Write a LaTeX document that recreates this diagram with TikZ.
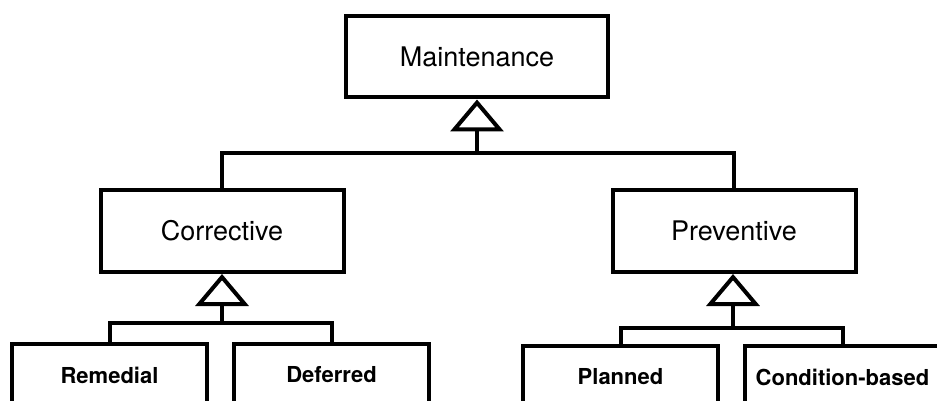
\documentclass[tikz,border=0pt]{standalone}
\usepackage{fontspec}
\setmainfont{TeX Gyre Heros}
\usetikzlibrary{positioning}
\usetikzlibrary{arrows.meta}

\tikzset{
  thickline/.style={line width=4pt},
  classbox/.style={draw, thickline, inner sep=0pt, minimum width=262pt, minimum height=81pt, font=\fontsize{27}{32}\selectfont},
  subbox/.style={classbox, minimum width=243pt, minimum height=82pt},
  leafbox/.style={draw, thickline, inner sep=0pt, minimum width=195pt, minimum height=62pt, font=\bfseries\fontsize{22}{26}\selectfont},
  isa/.style={thickline, -{Triangle[open, length=32pt, width=53pt]}}
}

\begin{document}
\begin{tikzpicture}[x=1pt, y=-1pt]
  \useasboundingbox (0,0) rectangle (937,401);
  \clip (0,0) rectangle (937,401);

  \node [classbox] (maint) at (477,57) {Maintenance};
  \node [subbox] (corr) at (222,231) {Corrective};
  \node [subbox] (prev) at (734,231) {Preventive};

  \node [leafbox] (remed) at (109.5,375) {Remedial};
  \node [leafbox] (defer) at (331.5,375) {Deferred};
  \node [leafbox] (plan) at (620.5,377) {Planned};
  \node [leafbox] (cond) at (842.5,377) {Condition-based};

  \coordinate (mbar) at (477,153);
  \coordinate (cbar) at (222,323);
  \coordinate (pbar) at (733,328);

  \draw [isa] (mbar) -- (maint.south);
  \draw [thickline] (corr.north) |- (mbar) -| (prev.north);

  \draw [isa] (cbar) -- (corr.south);
  \draw [thickline] (remed.north) |- (cbar) -| (defer.north);

  \draw [isa] (pbar) -- (pbar |- prev.south);
  \draw [thickline] (plan.north) |- (pbar) -| (cond.north);
\end{tikzpicture}
\end{document}
